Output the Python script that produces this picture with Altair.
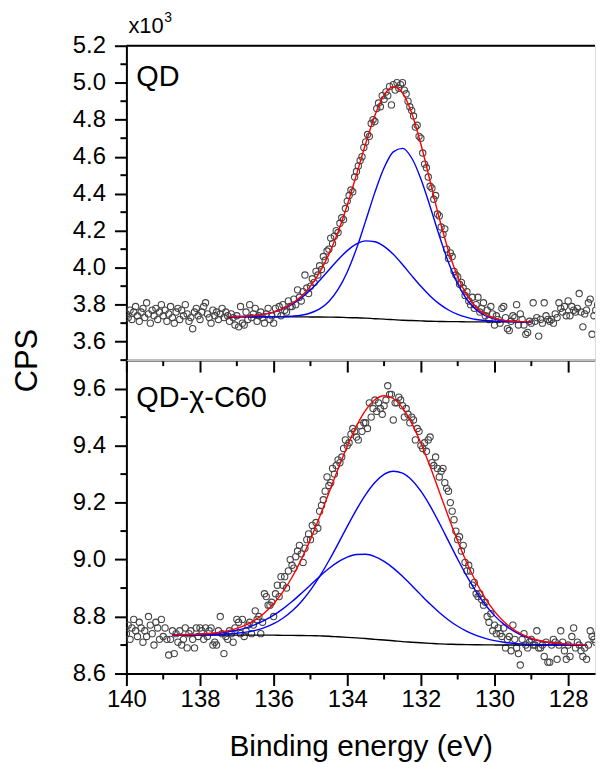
import altair as alt
import pandas as pd

# ---------------- data ----------------
# measured binding energies: 140.00 eV down to 127.00 eV, 0.05 eV steps
E_DATA = [round(140.0 - 0.05 * i, 2) for i in range(261)]

# QD panel, counts in units of 10^3 CPS
QD_COUNTS = [
    3.75, 3.73, 3.77, 3.72, 3.76, 3.79, 3.74, 3.71, 3.76, 3.78,
    3.73, 3.81, 3.75, 3.70, 3.77, 3.74, 3.78, 3.72, 3.76, 3.80,
    3.74, 3.77, 3.71, 3.75, 3.79, 3.73, 3.70, 3.76, 3.78, 3.72,
    3.77, 3.74, 3.80, 3.75, 3.71, 3.73, 3.67, 3.76, 3.78, 3.74,
    3.72, 3.76, 3.79, 3.81, 3.75, 3.73, 3.70, 3.77, 3.74, 3.76,
    3.72, 3.75, 3.78, 3.73, 3.76, 3.74, 3.71, 3.75, 3.73, 3.69,
    3.74, 3.68, 3.79, 3.70, 3.69, 3.76, 3.72, 3.80, 3.73, 3.75,
    3.78, 3.71, 3.74, 3.76, 3.73, 3.70, 3.75, 3.78, 3.72, 3.74,
    3.70, 3.78, 3.75, 3.79, 3.74, 3.80, 3.77, 3.76, 3.82, 3.79,
    3.79, 3.83, 3.80, 3.88, 3.84, 3.82, 3.87, 3.96, 3.89, 3.86,
    3.90, 3.94, 3.92, 3.98, 3.96, 4.01, 3.99, 4.06, 4.04, 4.09,
    4.10, 4.16, 4.13, 4.17, 4.20, 4.19, 4.24, 4.27, 4.26, 4.32,
    4.36, 4.39, 4.42, 4.41, 4.49, 4.52, 4.55, 4.58, 4.60, 4.65,
    4.68, 4.72, 4.71, 4.78, 4.80, 4.79, 4.86, 4.89, 4.87, 4.93,
    4.91, 4.95, 4.93, 4.98, 4.88, 4.99, 4.96, 5.00, 4.97, 4.99,
    5.00, 4.96, 4.94, 4.90, 4.87, 4.85, 4.82, 4.76, 4.77, 4.71,
    4.70, 4.62, 4.56, 4.54, 4.49, 4.44, 4.43, 4.37, 4.39, 4.29,
    4.28, 4.22, 4.18, 4.21, 4.10, 4.05, 4.08, 4.06, 3.98, 3.96,
    3.95, 3.91, 3.92, 3.89, 3.85, 3.87, 3.82, 3.80, 3.84, 3.78,
    3.80, 3.84, 3.76, 3.78, 3.81, 3.74, 3.77, 3.72, 3.79, 3.75,
    3.69, 3.74, 3.72, 3.70, 3.78, 3.79, 3.73, 3.67, 3.66, 3.71,
    3.74, 3.73, 3.80, 3.69, 3.75, 3.72, 3.69, 3.64, 3.65, 3.71,
    3.70, 3.81, 3.71, 3.73, 3.63, 3.72, 3.70, 3.81, 3.74, 3.72,
    3.71, 3.72, 3.70, 3.75, 3.73, 3.81, 3.78, 3.76, 3.79, 3.74,
    3.82, 3.74, 3.79, 3.77, 3.76, 3.78, 3.86, 3.76, 3.68, 3.75,
    3.77, 3.81, 3.83, 3.64, 3.74, 3.77, 3.80, 3.76, 3.74, 3.78,
    3.75,
]

# QD-chi-C60 panel, counts in units of 10^3 CPS
QDC_COUNTS = [
    8.74, 8.77, 8.72, 8.76, 8.79, 8.75, 8.73, 8.78, 8.76, 8.71,
    8.75, 8.73, 8.80, 8.77, 8.74, 8.70, 8.78, 8.76, 8.72, 8.79,
    8.73, 8.76, 8.72, 8.665, 8.72, 8.75, 8.67, 8.74, 8.71, 8.75,
    8.70, 8.72, 8.76, 8.69, 8.74, 8.75, 8.72, 8.69, 8.76, 8.73,
    8.76, 8.75, 8.72, 8.76, 8.73, 8.75, 8.76, 8.70, 8.71, 8.70,
    8.75, 8.80, 8.74, 8.67, 8.73, 8.72, 8.75, 8.74, 8.71, 8.76,
    8.79, 8.78, 8.74, 8.79, 8.73, 8.75, 8.77, 8.78, 8.74, 8.77,
    8.82, 8.79, 8.80, 8.74, 8.78, 8.88, 8.87, 8.84, 8.84, 8.85,
    8.80, 8.88, 8.91, 8.87, 8.94, 8.91, 8.94, 8.90, 8.96, 9.00,
    8.98, 8.97, 9.01, 9.03, 9.05, 9.02, 8.99, 9.04, 9.07, 9.09,
    9.07, 9.12, 9.10, 9.13, 9.11, 9.17, 9.19, 9.21, 9.24, 9.29,
    9.26, 9.27, 9.32, 9.30, 9.33, 9.35, 9.34, 9.36, 9.39, 9.42,
    9.40, 9.41, 9.44, 9.46, 9.45, 9.43, 9.42, 9.47, 9.45, 9.48,
    9.48, 9.46, 9.55, 9.50, 9.53, 9.56, 9.52, 9.55, 9.53, 9.51,
    9.54, 9.56, 9.61, 9.58, 9.58, 9.49, 9.55, 9.55, 9.57, 9.56,
    9.54, 9.50, 9.53, 9.51, 9.48, 9.50, 9.49, 9.42, 9.46, 9.45,
    9.40, 9.39, 9.41, 9.38, 9.42, 9.43, 9.34, 9.33, 9.36, 9.32,
    9.29, 9.31, 9.32, 9.27, 9.25, 9.24, 9.20, 9.17, 9.14, 9.10,
    9.07, 9.08, 9.03, 9.05, 8.99, 8.96, 8.98, 8.96, 8.91, 8.92,
    8.88, 8.87, 8.88, 8.86, 8.84, 8.85, 8.80, 8.78, 8.81, 8.75,
    8.77, 8.74, 8.76, 8.74, 8.73, 8.76, 8.69, 8.72, 8.73, 8.68,
    8.77, 8.72, 8.69, 8.67, 8.63, 8.72, 8.74, 8.70, 8.69, 8.71,
    8.72, 8.70, 8.70, 8.75, 8.69, 8.69, 8.70, 8.66, 8.71, 8.64,
    8.64, 8.70, 8.72, 8.71, 8.65, 8.70, 8.75, 8.71, 8.68, 8.65,
    8.70, 8.66, 8.73, 8.76, 8.69, 8.71, 8.70, 8.68, 8.66, 8.69,
    8.65, 8.70, 8.75, 8.73, 8.72, 8.71, 8.74, 8.70, 8.73, 8.72,
    8.74,
]

# fitted curves, QD panel (137.25 eV down to 129.00 eV, 0.25 eV steps)
E_FIT_QD = [round(137.25 - 0.25 * i, 2) for i in range(34)]
QD_BASE = [3.734, 3.734, 3.734, 3.734, 3.734, 3.734, 3.734, 3.734, 3.734, 3.7335,
           3.733, 3.7325, 3.732, 3.730, 3.729, 3.727, 3.724, 3.722, 3.719, 3.716,
           3.714, 3.712, 3.710, 3.709, 3.708, 3.708, 3.707, 3.707, 3.707, 3.707,
           3.707, 3.707, 3.707, 3.707]
QD_ENVELOPE = [3.735, 3.736, 3.738, 3.742, 3.749, 3.760, 3.778, 3.806, 3.845, 3.900,
               3.975, 4.072, 4.193, 4.339, 4.503, 4.671, 4.823, 4.933, 4.978, 4.945,
               4.836, 4.667, 4.468, 4.267, 4.091, 3.951, 3.851, 3.786, 3.747, 3.726,
               3.715, 3.710, 3.708, 3.707]
QD_PEAK1 = [3.734, 3.734, 3.734, 3.734, 3.734, 3.735, 3.735, 3.738, 3.743, 3.755,
            3.777, 3.817, 3.882, 3.977, 4.103, 4.253, 4.407, 4.540, 4.626, 4.645,
            4.593, 4.480, 4.331, 4.173, 4.028, 3.912, 3.828, 3.773, 3.740, 3.722,
            3.714, 3.710, 3.708, 3.707]
QD_PEAK2 = [3.735, 3.736, 3.738, 3.742, 3.749, 3.760, 3.777, 3.802, 3.836, 3.879,
            3.931, 3.987, 4.043, 4.092, 4.128, 4.145, 4.140, 4.115, 4.072, 4.017,
            3.957, 3.899, 3.847, 3.804, 3.771, 3.747, 3.731, 3.720, 3.714, 3.711,
            3.709, 3.708, 3.707, 3.707]

# fitted curves, QD-chi-C60 panel (138.75 eV down to 127.50 eV, 0.25 eV steps)
E_FIT_QDC = [round(138.75 - 0.25 * i, 2) for i in range(46)]
QDC_BASE = [8.735, 8.735, 8.735, 8.735, 8.735, 8.735, 8.735, 8.735, 8.735, 8.735,
            8.735, 8.735, 8.734, 8.734, 8.7335, 8.733, 8.732, 8.731, 8.729, 8.727,
            8.725, 8.723, 8.720, 8.7175, 8.715, 8.712, 8.710, 8.708, 8.706, 8.704,
            8.703, 8.702, 8.7015, 8.701, 8.7006, 8.7004, 8.7002, 8.700, 8.700, 8.700,
            8.700, 8.700, 8.700, 8.700, 8.700, 8.700]
QDC_ENVELOPE = [8.7355, 8.736, 8.7368, 8.7382, 8.7405, 8.7441, 8.7498, 8.7584, 8.7708, 8.7885,
                8.8128, 8.845, 8.8865, 8.938, 8.9998, 9.0709, 9.150, 9.2336, 9.3179, 9.398,
                9.4685, 9.5242, 9.5608, 9.575, 9.5653, 9.5325, 9.4789, 9.4084, 9.3264, 9.2384,
                9.1496, 9.0649, 8.9877, 8.9204, 8.8639, 8.8183, 8.783, 8.7565, 8.7373, 8.7239,
                8.7149, 8.709, 8.7053, 8.703, 8.7016, 8.7008]
QDC_PEAK1 = [8.735, 8.7352, 8.7353, 8.7356, 8.7361, 8.737, 8.7386, 8.7412, 8.7453, 8.7517,
             8.7612, 8.7748, 8.7939, 8.8193, 8.8521, 8.8926, 8.941, 8.9958, 9.0553, 9.1165,
             9.1756, 9.2283, 9.2707, 9.2988, 9.3101, 9.3036, 9.2796, 9.24, 9.1883, 9.1284,
             9.0646, 9.0011, 8.9412, 8.8875, 8.8413, 8.8033, 8.7733, 8.7504, 8.7336, 8.7217,
             8.7137, 8.7083, 8.7049, 8.7028, 8.7016, 8.7008]
QDC_PEAK2 = [8.7355, 8.7359, 8.7365, 8.7376, 8.7394, 8.742, 8.7462, 8.7522, 8.7604, 8.7717,
             8.7864, 8.8048, 8.8271, 8.8527, 8.8812, 8.9111, 8.9409, 8.9684, 8.9917, 9.0088,
             9.018, 9.0186, 9.0103, 8.9937, 8.97, 8.9412, 8.9092, 8.8761, 8.844, 8.8144,
             8.7881, 8.766, 8.748, 8.7339, 8.7232, 8.7154, 8.7099, 8.7062, 8.7037, 8.7022,
             8.7013, 8.7007, 8.7004, 8.7002, 8.7001, 8.700]

X_MAJOR = [128, 130, 132, 134, 136, 138, 140]
X_MINOR = [129, 131, 133, 135, 137, 139]
QD_Y_MAJOR = [3.6, 3.8, 4.0, 4.2, 4.4, 4.6, 4.8, 5.0, 5.2]
QD_Y_MINOR = [3.7, 3.9, 4.1, 4.3, 4.5, 4.7, 4.9, 5.1]
QDC_Y_MAJOR = [8.6, 8.8, 9.0, 9.2, 9.4, 9.6]
QDC_Y_MINOR = [8.7, 8.9, 9.1, 9.3, 9.5, 9.7]
X_DOMAIN = [127.27, 140.0]

# ---------------- styling ----------------
FONT = "Liberation Sans"
W, H_TOP, H_BOT = 471, 316, 315
MAJ, MIN = 12, 6

x_scale = alt.Scale(domain=X_DOMAIN, reverse=True, nice=False, zero=False)


def x_axis(show_labels):
    kw = dict(values=X_MAJOR, grid=False, domain=True, domainColor="black",
              domainWidth=2, labelFlush=False, labelOverlap=False, tickSize=MAJ,
              tickColor="black", tickWidth=2)
    if show_labels:
        kw.update(labels=True, format="d", labelFontSize=24, labelFont=FONT,
                  labelColor="black", labelPadding=2, title="Binding energy (eV)",
                  titleFontSize=30, titleFont=FONT, titleFontWeight="normal",
                  titleColor="black", titlePadding=20)
    else:
        kw.update(labels=False, title=None)
    return alt.Axis(**kw)


def y_axis(values, with_title):
    kw = dict(values=values, grid=False, domain=True, domainColor="black",
              domainWidth=2, format=".1f", labelFlush=False, labelOverlap=False,
              tickSize=MAJ, tickColor="black", tickWidth=2, labelFontSize=24,
              labelFont=FONT, labelColor="black", labelPadding=9)
    if with_title:
        kw.update(title="CPS", titleFontSize=31, titleFont=FONT, titleFontWeight="normal",
                  titleColor="black", titleX=-99, titleY=H_TOP, titleAngle=270,
                  titleAlign="center", titleBaseline="middle")
    else:
        kw.update(title=None)
    return alt.Axis(**kw)


def panel(counts, e_fit, base, env, p1, p2, y_dom, y_major, y_minor, label, label_y,
          height, top, bottom):
    pts = pd.DataFrame({"e": E_DATA, "v": counts})
    yscale = alt.Scale(domain=y_dom, nice=False, zero=False)

    def X():
        return alt.X("e:Q", scale=x_scale, axis=x_axis(bottom))

    def Y():
        return alt.Y("v:Q", scale=yscale, axis=y_axis(y_major, top))

    points = alt.Chart(pts).mark_point(
        shape="circle", filled=False, size=40, color="#444444",
        strokeWidth=1.1, opacity=1, clip=True
    ).encode(x=X(), y=Y())

    def curve(vals, color, w=1.4):
        df = pd.DataFrame({"e": e_fit, "v": vals})
        return alt.Chart(df).mark_line(
            color=color, strokeWidth=w, interpolate="monotone", clip=True
        ).encode(x=X(), y=Y())

    # minor ticks, placed through the same scales (same field names and axes)
    y_minor_ticks = alt.Chart(pd.DataFrame({"v": y_minor})).mark_rule(
        color="black", strokeWidth=2
    ).encode(y=Y(), x=alt.value(-MIN), x2=alt.value(0))
    x_minor_ticks = alt.Chart(pd.DataFrame({"e": X_MINOR})).mark_rule(
        color="black", strokeWidth=2
    ).encode(x=X(), y=alt.value(height), y2=alt.value(height + MIN))

    lbl = alt.Chart(pd.DataFrame({"t": [label]})).mark_text(
        align="left", baseline="middle", font=FONT, fontSize=29, color="black"
    ).encode(text="t:N", x=alt.value(10), y=alt.value(label_y))

    layers = [points, curve(base, "black"), curve(p1, "#0000ff"),
              curve(p2, "#0000ff"), curve(env, "#ff0000"),
              y_minor_ticks, x_minor_ticks, lbl]
    if top:
        # top frame line along the upper end of the y domain
        frame = alt.Chart(pd.DataFrame({"e": [X_DOMAIN[1]], "e2": [X_DOMAIN[0]],
                                        "v": [y_dom[1]]})).mark_rule(
            color="black", strokeWidth=2
        ).encode(x=X(), x2="e2:Q", y=Y())
        mult = alt.Chart(pd.DataFrame({"t": ["x10"]})).mark_text(
            align="left", baseline="middle", font=FONT, fontSize=22, color="black"
        ).encode(text="t:N", x=alt.value(2), y=alt.value(-20))
        sup = alt.Chart(pd.DataFrame({"t": ["3"]})).mark_text(
            align="left", baseline="middle", font=FONT, fontSize=14, color="black"
        ).encode(text="t:N", x=alt.value(38), y=alt.value(-28))
        layers += [frame, mult, sup]
    return alt.layer(*layers).properties(width=W, height=height)


top_panel = panel(QD_COUNTS, E_FIT_QD, QD_BASE, QD_ENVELOPE, QD_PEAK1, QD_PEAK2,
                  [3.5, 5.2], QD_Y_MAJOR, QD_Y_MINOR, "QD", 31, H_TOP, True, False)
bottom_panel = panel(QDC_COUNTS, E_FIT_QDC, QDC_BASE, QDC_ENVELOPE, QDC_PEAK1, QDC_PEAK2,
                     [8.6, 9.7], QDC_Y_MAJOR, QDC_Y_MINOR, "QD-χ-C60", 38, H_BOT,
                     False, True)

chart = alt.vconcat(top_panel, bottom_panel, spacing=0, bounds="flush").properties(
    padding={"left": 3, "top": 0, "right": 0, "bottom": 0}
).configure_view(strokeWidth=0).configure(background="white")

chart.save("out.html", embed_options={"renderer": "svg", "actions": False})
